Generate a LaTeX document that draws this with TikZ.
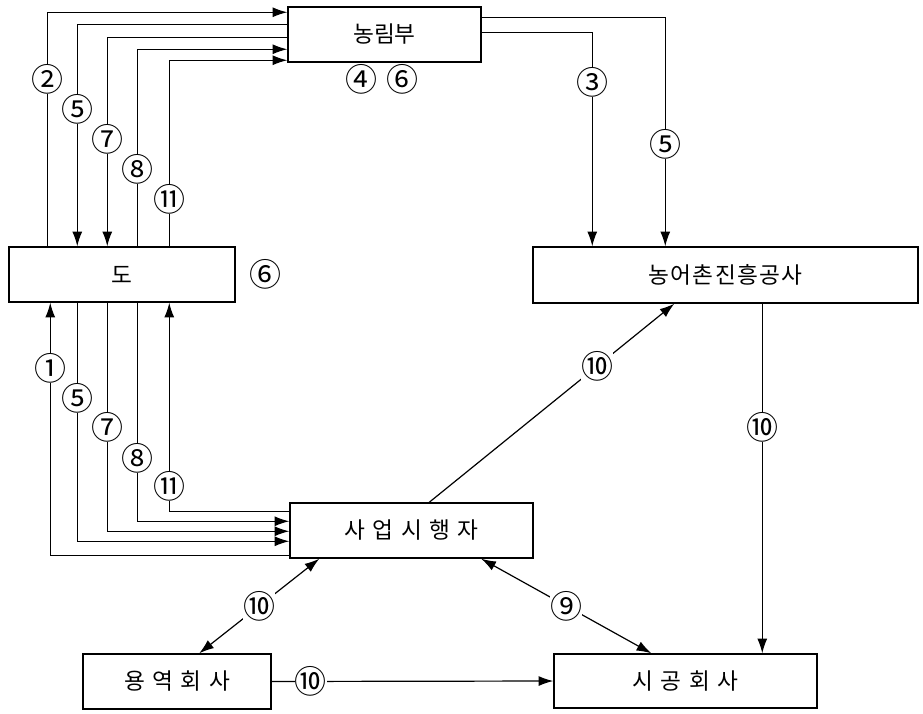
\documentclass[tikz,border=0pt]{standalone}
\usepackage{fontspec}
\setmainfont{Noto Sans CJK KR}
\newfontfamily\widekr{Noto Sans CJK KR}[LetterSpace=33]
\newfontfamily\midkr{Noto Sans CJK KR}[LetterSpace=6]
\usetikzlibrary{shapes,arrows.meta,positioning,calc}
\tikzstyle{orgbox}=[rectangle, draw, line width=1.1pt, inner sep=0pt, minimum height=41.25pt, font=\fontsize{17}{19}\selectfont]
\tikzstyle{circnum}=[fill=white, inner sep=0pt, font=\fontsize{24}{25}\selectfont]
\tikzstyle{flow}=[line width=0.9pt]

\begin{document}
\begin{tikzpicture}[x=0.75pt, y=-0.75pt, >={Latex[length=11pt,width=7.5pt]}]
\useasboundingbox (0,0) rectangle (923,713);

\node[orgbox, minimum width=144.75pt] (nr) at (384.5,34.5) {농림부};
\node[orgbox, minimum width=169.5pt] (do) at (122,274.5) {도};
\node[orgbox, minimum width=288.75pt, minimum height=42pt] (gs) at (725.5,275) {\midkr 농어촌진흥공사};
\node[orgbox, minimum width=182.25pt] (sh) at (411.5,530.5) {\widekr 사업시행자};
\node[orgbox, minimum width=141pt] (yy) at (177,681.5) {\widekr 용역회사};
\node[orgbox, minimum width=197.25pt, minimum height=40.5pt] (sg) at (685.5,681) {\widekr 시공회사};
\node[circnum, below=1pt of nr, xshift=-2pt] (nr-note) {④\hspace{7pt}⑥};
\node[circnum, right=10pt of do] (do-note) {⑥};

% 도 <-> 농림부
\draw[flow,->] ($(do.north west)+(39,0)$) |- node[circnum,pos=0.357] (u2) {②} ($(nr.north west)+(0,6)$);
\draw[flow,->] ($(nr.north west)+(0,18)$) -| node[circnum,pos=0.691] (u5) {⑤} ($(do.north west)+(69,0)$);
\draw[flow,->] ($(nr.north west)+(0,31)$) -| node[circnum,pos=0.744] (u7) {⑦} ($(do.north west)+(99,0)$);
\draw[flow,->] ($(do.north west)+(129,0)$) |- node[circnum,pos=0.195] (u8) {⑧} ($(nr.north west)+(0,43)$);
\draw[flow,->] ($(do.north west)+(161,0)$) |- node[circnum,pos=0.126] (u11) {⑪} ($(nr.north west)+(0,54)$);

% 도 <-> 사업시행자
\draw[flow,->] ($(sh.north west)+(0,53)$) -| node[circnum,pos=0.870] (d1) {①} ($(do.south west)+(42,0)$);
\draw[flow,->] ($(do.south west)+(69,0)$) |- node[circnum,pos=0.2] (d5) {⑤} ($(sh.north west)+(0,39)$);
\draw[flow,->] ($(do.south west)+(99,0)$) |- node[circnum,pos=0.272] (d7) {⑦} ($(sh.north west)+(0,29)$);
\draw[flow,->] ($(do.south west)+(129,0)$) |- node[circnum,pos=0.355] (d8) {⑧} ($(sh.north west)+(0,19)$);
\draw[flow,->] ($(sh.north west)+(0,9)$) -| node[circnum,pos=0.56] (d11) {⑪} ($(do.south west)+(161,0)$);

% 농림부 -> 농어촌진흥공사
\draw[flow,->] ($(nr.north east)+(0,11)$) -| node[circnum,pos=0.777] (r5) {⑤} ($(gs.north west)+(133,0)$);
\draw[flow,->] ($(nr.north east)+(0,26)$) -| node[circnum,pos=0.617] (r3) {③} ($(gs.north west)+(60,0)$);

% 사업시행자, 농어촌진흥공사 -> 회사
\draw[flow,->] ($(sh.north west)+(140,0)$) -- node[circnum,pos=0.686] (s10) {⑩} ($(gs.south west)+(142,0)$);
\draw[flow,->] ($(gs.south west)+(230,0)$) -- node[circnum,pos=0.353] (g10) {⑩} ($(sg.north west)+(209,0)$);
\draw[flow,<->] ($(yy.north west)+(117,0)$) -- node[circnum] (y10) {⑩} ($(sh.south west)+(30,0)$);
\draw[flow,<->] ($(sh.south west)+(192,0)$) -- node[circnum] (s9) {⑨} ($(sg.north west)+(98,0)$);
\draw[flow,->] (yy.east) -- node[circnum,pos=0.138] (yc10) {⑩} (sg.west);

\end{tikzpicture}
\end{document}
